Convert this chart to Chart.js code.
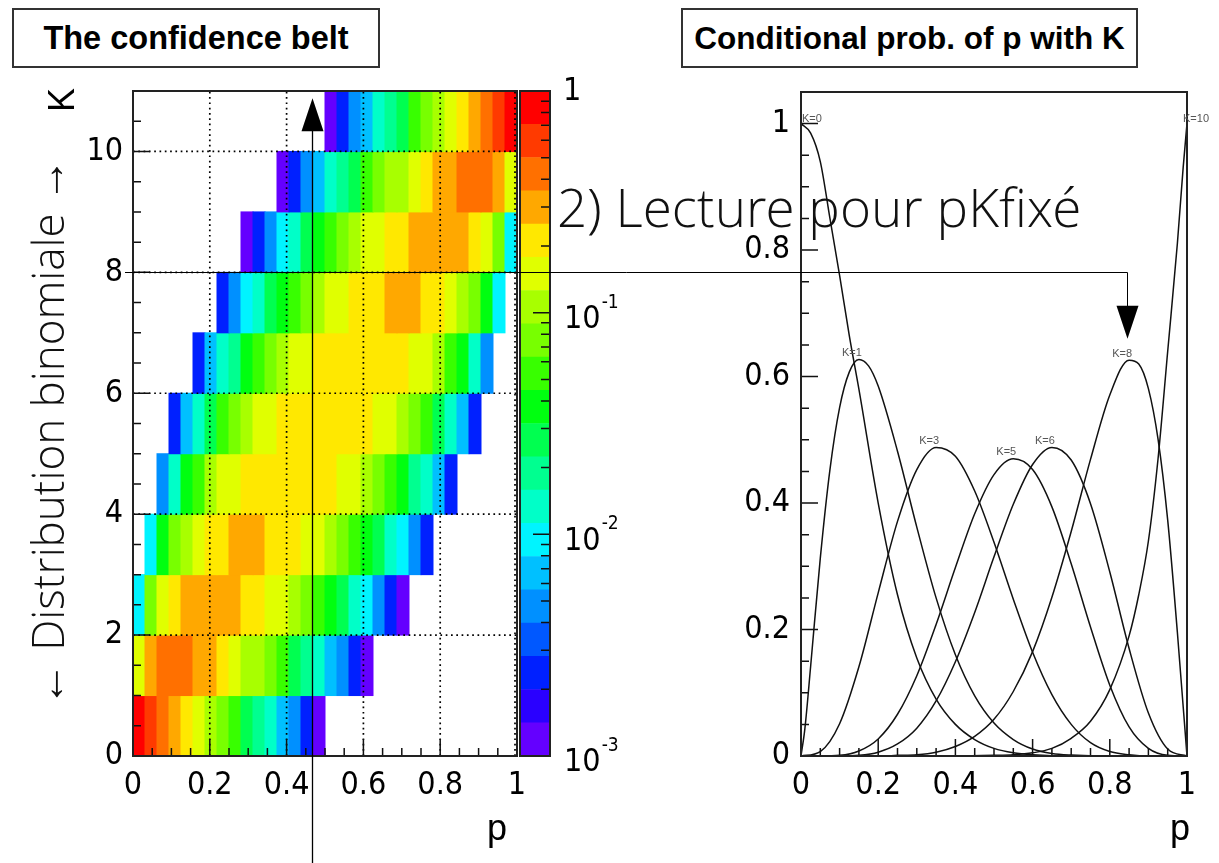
<!DOCTYPE html>
<html lang="fr">
<head>
<meta charset="utf-8">
<title>Ceinture de confiance</title>
<script src="https://cdn.jsdelivr.net/npm/chart.js@4.4.1/dist/chart.umd.min.js"></script>
<style>
  html, body { margin: 0; padding: 0; background: #fff; }
  #page { position: relative; width: 1219px; height: 863px; overflow: hidden; }
  #page canvas { position: absolute; }
  .boite { position: absolute; box-sizing: border-box; border: 2px solid #333; background: #fff;
           font: bold 32.5px "Liberation Sans", Arial, sans-serif; color: #000;
           display: flex; align-items: center; justify-content: center; white-space: nowrap; }
  .axe { position: absolute; font: 36px "Liberation Sans", Arial, sans-serif; line-height: 36px; color: #000; white-space: nowrap; }
  .note { position: absolute; font-family: "Open Sans Light", "Open Sans", sans-serif; font-weight: 300;
          color: #111; white-space: nowrap; }
  .tourne { transform: translate(-50%, -50%) rotate(-90deg); }
</style>
</head>
<body>
<div id="page">
  <canvas id="belt" width="500" height="783" style="left:40px; top:80px"></canvas>
  <canvas id="barre" width="100" height="803" style="left:519px; top:60px"></canvas>
  <canvas id="courbes" width="519" height="783" style="left:700px; top:80px"></canvas>
  <canvas id="fleches" width="1219" height="863" style="left:0; top:0"></canvas>

  <div class="boite" style="left:12px; top:8px; width:368px; height:60px">The confidence belt</div>
  <div class="boite" style="left:681px; top:8px; width:457px; height:60px; font-size:31.5px">Conditional prob. of p with K</div>
  <div class="axe tourne" style="left:62px; top:100px">K</div>
  <div class="axe" style="left:487px; top:810px">p</div>
  <div class="axe" style="left:1170px; top:810px">p</div>
  <div class="note" style="left:557px; top:180px; font-size:53px; line-height:53px">2) Lecture pour pKfixé</div>
  <div class="note tourne" style="left:47px; top:432px; font-size:44px; line-height:44px">← Distribution binomiale →</div>
</div>

<script>
// ---- belt: 32 bins in p, one row per K (n = 10) ----
const nBins = 32;
const kValues = [0, 1, 2, 3, 4, 5, 6, 7, 8, 9, 10];
const firstBin = [0, 0, 0, 1, 2, 3, 5, 7, 9, 12, 16];

// colour level of every filled cell (0 = 1e-3 ... 19 = 1), left to right
const levelsK0 = [19, 18, 17, 16, 15, 14, 13, 12, 11, 9, 8, 7, 5, 4, 2, 0];
const levelsK1 = [14, 16, 17, 17, 17, 16, 16, 15, 14, 13, 13, 12, 11, 9, 8, 7, 5, 4, 2, 0];
const levelsK2 = [6, 12, 14, 15, 16, 16, 16, 16, 16, 15, 15, 14, 14, 13, 12, 11, 10, 9, 7, 6, 4, 2, 0];
const levelsK3 = [6, 10, 12, 13, 14, 15, 15, 16, 16, 16, 15, 15, 15, 14, 14, 13, 12, 11, 10, 9, 7, 6, 4, 2];
const levelsK4 = [4, 7, 10, 11, 13, 14, 14, 15, 15, 15, 15, 15, 15, 15, 15, 14, 14, 13, 12, 11, 10, 8, 7, 5, 2];
const levelsK5 = [2, 5, 7, 9, 11, 12, 13, 14, 14, 15, 15, 15, 15, 15, 15, 15, 15, 14, 14, 13, 12, 11, 9, 7, 5, 2];
const levelsK6 = [2, 5, 7, 8, 10, 11, 12, 13, 14, 14, 15, 15, 15, 15, 15, 15, 15, 15, 14, 14, 13, 11, 10, 7, 4];
const levelsK7 = [2, 4, 6, 7, 9, 10, 11, 12, 13, 14, 14, 15, 15, 15, 16, 16, 16, 15, 15, 14, 13, 12, 10, 6];
const levelsK8 = [0, 2, 4, 6, 7, 9, 10, 11, 12, 13, 14, 14, 15, 15, 16, 16, 16, 16, 16, 15, 14, 12, 6];
const levelsK9 = [0, 2, 4, 5, 7, 8, 9, 11, 12, 13, 13, 14, 15, 16, 16, 17, 17, 17, 16, 14];
const levelsK10 = [0, 2, 4, 5, 7, 8, 9, 11, 12, 13, 14, 15, 16, 17, 18, 19];

// colour scale: 20 contours, log10 edges from 1e-3 to 1
const levelEdges = [-3, -2.85, -2.7, -2.55, -2.4, -2.25, -2.1, -1.95, -1.8, -1.65, -1.5,
                    -1.35, -1.2, -1.05, -0.9, -0.75, -0.6, -0.45, -0.3, -0.15, 0];
const palette = ['#6400ff', '#2a00ff', '#0020ff', '#0058ff', '#0090ff', '#00c0ff', '#00f4ff',
                 '#00ffc8', '#00ff90', '#00ff50', '#00ff10', '#38ff00', '#78ff00', '#a8ff00',
                 '#e0ff00', '#ffe800', '#ffa800', '#ff7000', '#ff3a00', '#ff0000'];

// axis ticks
const pTicks = [0, 0.2, 0.4, 0.6, 0.8, 1];
const kTicks = [0, 2, 4, 6, 8, 10];
const probTicks = [0, 0.2, 0.4, 0.6, 0.8, 1];

// ---- conditional probability curves ----
const pGrid = [0, 0.05, 0.1, 0.15, 0.2, 0.25, 0.3, 0.35, 0.4, 0.45, 0.5, 0.55, 0.6, 0.65, 0.7, 0.75, 0.8, 0.85, 0.9, 0.95, 1];
const pK0 = [0, 0.025, 0.05, 0.075, 0.1, 0.125, 0.15, 0.2, 0.25, 0.3, 0.35, 0.4, 0.45, 0.5, 0.55, 0.6, 0.7, 0.8, 0.9, 1];
const vK0 = [1.0, 0.985, 0.94, 0.85, 0.76, 0.665, 0.58, 0.4, 0.255, 0.155, 0.09, 0.05, 0.026, 0.012, 0.005, 0.002, 0, 0, 0, 0];
const pK1 = [0, 0.01, 0.025, 0.05, 0.075, 0.1, 0.125, 0.15, 0.175, 0.2, 0.25, 0.3, 0.35, 0.4, 0.45, 0.5, 0.55, 0.6, 0.65, 0.7, 0.8, 0.9, 1];
const vK1 = [0, 0.043, 0.142, 0.313, 0.453, 0.551, 0.607, 0.627, 0.617, 0.585, 0.482, 0.362, 0.25, 0.16, 0.095, 0.052, 0.026, 0.011, 0.004, 0.0015, 0, 0, 0];
const vK3 = [0, 0.007, 0.051, 0.141, 0.258, 0.371, 0.453, 0.488, 0.474, 0.419, 0.338, 0.248, 0.164, 0.097, 0.05, 0.021, 0.007, 0.002, 0, 0, 0];
const vK5 = [0, 0, 0.001, 0.008, 0.027, 0.066, 0.127, 0.208, 0.298, 0.383, 0.445, 0.470, 0.453, 0.394, 0.304, 0.204, 0.112, 0.046, 0.012, 0.001, 0];
const vK6 = [0, 0, 0, 0.001, 0.006, 0.019, 0.044, 0.087, 0.149, 0.227, 0.315, 0.398, 0.461, 0.488, 0.468, 0.399, 0.291, 0.170, 0.068, 0.011, 0];
const pK8 = [0, 0.1, 0.2, 0.25, 0.3, 0.35, 0.4, 0.45, 0.5, 0.55, 0.6, 0.65, 0.7, 0.75, 0.8, 0.85, 0.875, 0.9, 0.925, 0.95, 0.975, 1];
const vK8 = [0, 0, 0, 0.001, 0.002, 0.006, 0.015, 0.031, 0.058, 0.102, 0.165, 0.251, 0.355, 0.469, 0.571, 0.626, 0.62, 0.581, 0.501, 0.373, 0.196, 0];
const pK10 = [0, 0.2, 0.4, 0.5, 0.55, 0.6, 0.65, 0.7, 0.75, 0.8, 0.85, 0.875, 0.9, 0.925, 0.95, 0.975, 0.99, 1];
const vK10 = [0, 0, 0, 0.001, 0.002, 0.005, 0.012, 0.028, 0.055, 0.105, 0.19, 0.255, 0.34, 0.47, 0.64, 0.81, 0.93, 1.0];

// reading arrows
const readP = 0.465;     // vertical reading line on the belt
const readK = 8;         // horizontal reading line
const curveP = 0.845;    // where it drops onto the K=8 curve
const upTipK = 10.88;
const downTipV = 0.66;

const narrow = "'Liberation Sans Narrow', 'DejaVu Sans Condensed', 'Liberation Sans', sans-serif";
const tickFont = { family: narrow, size: 32 };
const fmt = v => String(Math.round(v * 10) / 10);

function steps(from, to, step) {
  const out = [];
  for (let i = 0; from + i * step <= to + 1e-9; i++) out.push(from + i * step);
  return out;
}

// fixed axis boxes so that the plot frames land where they should
function fixWidth(w) {
  return s => { s.width = w; s.paddingTop = 0; s.paddingBottom = 0; };
}
function fixHeight(h) {
  return s => { s.height = h; s.paddingLeft = 0; s.paddingRight = 0; };
}
function useTicks(list) {
  return s => { s.ticks = list.map(v => ({ value: v })); };
}

// inward ticks on the bottom and left edges, ROOT style
function drawTicks(ctx, a, x, y, xMajor, xMinor, yMajor, yMinor) {
  ctx.strokeStyle = '#111';
  ctx.lineWidth = 1.5;
  ctx.setLineDash([]);
  ctx.beginPath();
  xMinor.forEach(v => { const p = x.getPixelForValue(v); ctx.moveTo(p, a.bottom); ctx.lineTo(p, a.bottom - 8); });
  xMajor.forEach(v => { const p = x.getPixelForValue(v); ctx.moveTo(p, a.bottom); ctx.lineTo(p, a.bottom - 17); });
  yMinor.forEach(v => { const p = y.getPixelForValue(v); ctx.moveTo(a.left, p); ctx.lineTo(a.left + 8, p); });
  yMajor.forEach(v => { const p = y.getPixelForValue(v); ctx.moveTo(a.left, p); ctx.lineTo(a.left + 17, p); });
  ctx.stroke();
}

const beltDecor = {
  id: 'beltDecor',
  afterDatasetsDraw(chart) {
    const { ctx, chartArea: a, scales: { x, y } } = chart;
    ctx.save();
    // dotted grid is drawn over the cells
    ctx.strokeStyle = '#000';
    ctx.lineWidth = 1.7;
    ctx.setLineDash([1.7, 3.6]);
    ctx.beginPath();
    [0.2, 0.4, 0.6, 0.8, 1].forEach(v => {
      const p = x.getPixelForValue(v) - (v === 1 ? 2 : 0);
      ctx.moveTo(p, a.bottom); ctx.lineTo(p, a.top);
    });
    [2, 4, 6, 8, 10].forEach(v => {
      const p = y.getPixelForValue(v);
      ctx.moveTo(a.left, p); ctx.lineTo(a.right, p);
    });
    ctx.stroke();
    drawTicks(ctx, a, x, y, pTicks, steps(0, 1, 0.05), kTicks, steps(0, 11, 0.5));
    ctx.strokeStyle = '#222';
    ctx.lineWidth = 2;
    ctx.strokeRect(a.left, a.top, a.width, a.height);
    ctx.restore();
  }
};

const barreDecor = {
  id: 'barreDecor',
  afterDraw(chart) {
    const { ctx, chartArea: a, scales: { y } } = chart;
    ctx.save();
    ctx.strokeStyle = '#111';
    ctx.lineWidth = 1.5;
    ctx.beginPath();
    for (let e = -3; e < 0; e++) {
      for (let m = 1; m < 10; m++) {
        const p = y.getPixelForValue(m * Math.pow(10, e));
        ctx.moveTo(a.right, p); ctx.lineTo(a.right - (m === 1 ? 17 : 9), p);
      }
    }
    ctx.stroke();
    ctx.strokeStyle = '#222';
    ctx.lineWidth = 2;
    ctx.strokeRect(a.left, a.top, a.width, a.height);
    ctx.fillStyle = '#000';
    ctx.textBaseline = 'middle';
    ctx.textAlign = 'left';
    [0, -1, -2, -3].forEach(e => {
      const p = y.getPixelForValue(Math.pow(10, e));
      ctx.font = '32px ' + narrow;
      if (e === 0) {
        ctx.fillText('1', a.right + 13, p + 1);
      } else {
        ctx.fillText('10', a.right + 14, p + 7);
        const w = ctx.measureText('10').width;
        ctx.font = '19px ' + narrow;
        ctx.fillText(String(e), a.right + 15 + w, p - 10);
      }
    });
    ctx.restore();
  }
};

const courbesDecor = {
  id: 'courbesDecor',
  afterDatasetsDraw(chart) {
    const { ctx, chartArea: a, scales: { x, y } } = chart;
    ctx.save();
    drawTicks(ctx, a, x, y, pTicks, steps(0, 1, 0.05), probTicks, steps(0, 1.05, 0.05));
    ctx.strokeStyle = '#222';
    ctx.lineWidth = 2;
    ctx.strokeRect(a.left, a.top, a.width, a.height);
    // K labels sit on top of each curve's maximum
    ctx.font = '11px "Liberation Sans", Arial, sans-serif';
    ctx.fillStyle = '#555';
    ctx.textBaseline = 'bottom';
    chart.data.datasets.forEach(ds => {
      let best = ds.data[0];
      ds.data.forEach(pt => { if (pt.y > best.y) best = pt; });
      const px = x.getPixelForValue(best.x), py = y.getPixelForValue(best.y);
      if (best.x < 0.05) { ctx.textAlign = 'left'; ctx.fillText(ds.label, px + 1, py + 1); }
      else if (best.x > 0.95) { ctx.textAlign = 'left'; ctx.fillText(ds.label, px - 4, py + 1); }
      else { ctx.textAlign = 'center'; ctx.fillText(ds.label, px - 7, py - 1); }
    });
    ctx.restore();
  }
};

// ---- belt (left) ----
const beltRows = [levelsK0, levelsK1, levelsK2, levelsK3, levelsK4, levelsK5,
                  levelsK6, levelsK7, levelsK8, levelsK9, levelsK10];
const cells = [];
kValues.forEach((k, r) => {
  beltRows[r].forEach((lev, j) => {
    const b = firstBin[r] + j;
    cells.push({ y: k + 0.5, x: [b / nBins, (b + 1) / nBins], level: lev });
  });
});

const belt = new Chart(document.getElementById('belt'), {
  type: 'bar',
  data: {
    datasets: [{
      data: cells,
      backgroundColor: c => (c.raw ? palette[c.raw.level] : '#fff'),
      borderWidth: 0,
      barPercentage: 1,
      categoryPercentage: 1,
      inflateAmount: 0.5
    }]
  },
  options: {
    indexAxis: 'y',
    responsive: false,
    animation: false,
    devicePixelRatio: 1,
    events: [],
    layout: { padding: { top: 11, right: 23, left: 0, bottom: 0 } },
    plugins: { legend: { display: false }, tooltip: { enabled: false } },
    scales: {
      x: {
        type: 'linear', min: 0, max: 1,
        grid: { display: false, drawTicks: false }, border: { display: false },
        ticks: { font: tickFont, color: '#000', padding: 10, maxRotation: 0, autoSkip: false, callback: fmt },
        afterBuildTicks: useTicks(pTicks),
        afterFit: fixHeight(107)
      },
      y: {
        type: 'linear', min: 0, max: 11, offset: false,
        grid: { display: false, drawTicks: false }, border: { display: false },
        ticks: { font: tickFont, color: '#000', padding: 10, autoSkip: false, callback: v => String(v) },
        afterBuildTicks: useTicks(kTicks),
        afterFit: fixWidth(93)
      }
    }
  },
  plugins: [beltDecor]
});

// ---- colour bar ----
const bandSets = palette.map((col, i) => ({
  label: 'niveau ' + i,
  data: [[Math.pow(10, levelEdges[i]), Math.pow(10, levelEdges[i + 1])]],
  backgroundColor: col,
  borderWidth: 0,
  grouped: false,
  barPercentage: 1,
  categoryPercentage: 1
}));

const barre = new Chart(document.getElementById('barre'), {
  type: 'bar',
  data: { labels: [''], datasets: bandSets },
  options: {
    responsive: false,
    animation: false,
    devicePixelRatio: 1,
    events: [],
    layout: { padding: { top: 31, right: 69, left: 1, bottom: 107 } },
    plugins: { legend: { display: false }, tooltip: { enabled: false } },
    scales: {
      x: { display: false },
      y: { type: 'logarithmic', min: 0.001, max: 1, display: false }
    }
  },
  plugins: [barreDecor]
});

// ---- curves (right) ----
const curveSets = [
  { k: 0, p: pK0, v: vK0 },
  { k: 1, p: pK1, v: vK1 },
  { k: 3, p: pGrid, v: vK3 },
  { k: 5, p: pGrid, v: vK5 },
  { k: 6, p: pGrid, v: vK6 },
  { k: 8, p: pK8, v: vK8 },
  { k: 10, p: pK10, v: vK10 }
];

const courbes = new Chart(document.getElementById('courbes'), {
  type: 'line',
  data: {
    datasets: curveSets.map(c => ({
      label: 'K=' + c.k,
      data: c.p.map((p, i) => ({ x: p, y: c.v[i] })),
      borderColor: '#111',
      borderWidth: 1.5,
      pointRadius: 0,
      fill: false,
      cubicInterpolationMode: 'monotone'
    }))
  },
  options: {
    responsive: false,
    animation: false,
    devicePixelRatio: 1,
    events: [],
    layout: { padding: { top: 12, right: 32, left: 0, bottom: 0 } },
    plugins: { legend: { display: false }, tooltip: { enabled: false } },
    scales: {
      x: {
        type: 'linear', min: 0, max: 1,
        grid: { display: false, drawTicks: false }, border: { display: false },
        ticks: { font: tickFont, color: '#000', padding: 10, maxRotation: 0, autoSkip: false, callback: fmt },
        afterBuildTicks: useTicks(pTicks),
        afterFit: fixHeight(107)
      },
      y: {
        type: 'linear', min: 0, max: 1.05,
        grid: { display: false, drawTicks: false }, border: { display: false },
        ticks: { font: tickFont, color: '#000', padding: 11, autoSkip: false, callback: fmt },
        afterBuildTicks: useTicks(probTicks),
        afterFit: fixWidth(101)
      }
    }
  },
  plugins: [courbesDecor]
});

// ---- reading arrows across both panels ----
function triangle(ctx, tipX, tipY, dir) {
  ctx.beginPath();
  ctx.moveTo(tipX, tipY);
  ctx.lineTo(tipX - 11, tipY + dir * 33);
  ctx.lineTo(tipX + 11, tipY + dir * 33);
  ctx.closePath();
  ctx.fill();
}

function drawArrows() {
  const ctx = document.getElementById('fleches').getContext('2d');
  const bc = belt.canvas, cc = courbes.canvas;
  const bx = belt.scales.x, by = belt.scales.y, cx = courbes.scales.x, cy = courbes.scales.y;
  ctx.strokeStyle = '#000';
  ctx.fillStyle = '#000';
  ctx.lineWidth = 1.3;

  const xRead = Math.round(bc.offsetLeft + bx.getPixelForValue(readP)) + 0.5;
  const yUp = bc.offsetTop + by.getPixelForValue(upTipK);
  ctx.beginPath();
  ctx.moveTo(xRead, 863);
  ctx.lineTo(xRead, yUp + 30);
  ctx.stroke();
  triangle(ctx, xRead, yUp, 1);

  ctx.lineWidth = 1;
  const yRead = Math.round(bc.offsetTop + by.getPixelForValue(readK)) + 0.5;
  const xEnd = Math.round(cc.offsetLeft + cx.getPixelForValue(curveP)) + 0.5;
  const yDown = cc.offsetTop + cy.getPixelForValue(downTipV);
  ctx.beginPath();
  ctx.moveTo(bc.offsetLeft + bx.left - 8, yRead);
  ctx.lineTo(xEnd, yRead);
  ctx.lineTo(xEnd, yDown - 30);
  ctx.stroke();
  triangle(ctx, xEnd, yDown, -1);
}
drawArrows();
</script>
</body>
</html>
